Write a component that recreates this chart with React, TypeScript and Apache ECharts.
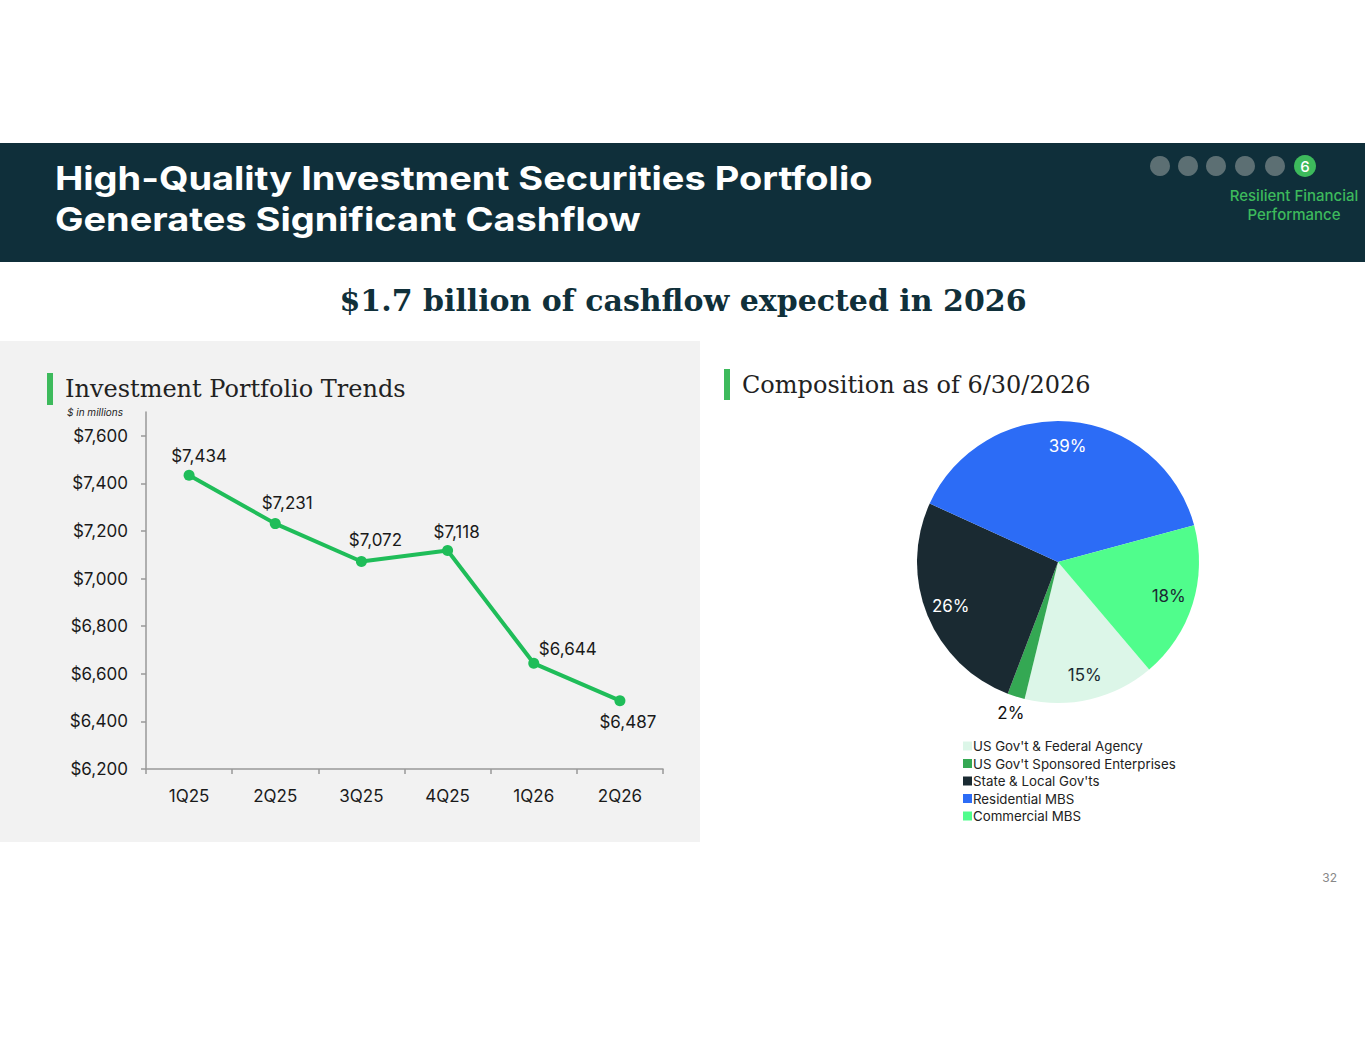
import React, { useEffect, useRef } from "react";
import * as echarts from "echarts";

const quarters = ["1Q25", "2Q25", "3Q25", "4Q25", "1Q26", "2Q26"];
const portfolioValues = [7434, 7231, 7072, 7118, 6644, 6487];
const yTickValues = [6200, 6400, 6600, 6800, 7000, 7200, 7400, 7600];
const compositionNames = [
  "US Gov't & Federal Agency",
  "US Gov't Sponsored Enterprises",
  "State & Local Gov'ts",
  "Residential MBS",
  "Commercial MBS",
];
const compositionPercents = [15, 2, 26, 39, 18];

const sliceColors = ["#dcf6e8", "#34a853", "#1a2a32", "#2c6cf6", "#50fd8c"];
const sliceLabelColors = ["#1a2a32", "#111111", "#ffffff", "#ffffff", "#1a2a32"];
const pointLabelStyles = [
  { position: "top", offset: [10, 0] },
  { position: "top", offset: [12, -2] },
  { position: "top", offset: [14, -2] },
  { position: "top", offset: [9, 0] },
  { position: "top", offset: [34, 5] },
  { position: "bottom", offset: [8, 2] },
];

const SANS = "Inter, 'Noto Sans', sans-serif";
const SERIF = "'DejaVu Serif', serif";
const HEADER = "#0f2f3a";
const GREEN = "#3dba5c";

const fmtMoney = (v: number) => "$" + v.toLocaleString("en-US");

export default function App() {
  const ref = useRef<HTMLDivElement>(null);
  useEffect(() => {
    if (!ref.current) return;
    const chart = echarts.init(ref.current, null, { renderer: "svg" });
    const dotXs = [1160, 1188, 1216, 1245, 1275];
    const option: any = {
      animation: false,
      backgroundColor: "#ffffff",
      graphic: [
        { type: "rect", z: -10, shape: { x: 0, y: 143, width: 1365, height: 119 }, style: { fill: HEADER } },
        { type: "text", x: 55, y: 178, scaleX: 1.15, style: { text: "High-Quality Investment Securities Portfolio", fill: "#fff", font: `bold 33px ${SANS}`, textVerticalAlign: "middle" } },
        { type: "text", x: 55, y: 219, scaleX: 1.15, style: { text: "Generates Significant Cashflow", fill: "#fff", font: `bold 33px ${SANS}`, textVerticalAlign: "middle" } },
        ...dotXs.map((cx) => ({ type: "circle", shape: { cx, cy: 166, r: 10 }, style: { fill: "#5c6f73" } })),
        { type: "circle", shape: { cx: 1305, cy: 166, r: 11 }, style: { fill: GREEN } },
        { type: "text", x: 1305, y: 166, style: { text: "6", fill: "#fff", font: `500 15px ${SANS}`, textAlign: "center", textVerticalAlign: "middle" } },
        { type: "text", x: 1294, y: 195, style: { text: "Resilient Financial", fill: GREEN, font: `500 15px ${SANS}`, textAlign: "center", textVerticalAlign: "middle" } },
        { type: "text", x: 1294, y: 214, style: { text: "Performance", fill: GREEN, font: `500 15px ${SANS}`, textAlign: "center", textVerticalAlign: "middle" } },
        { type: "text", x: 683, y: 300, style: { text: "$1.7 billion of cashflow expected in 2026", fill: "#10303a", font: `bold 30px ${SERIF}`, textAlign: "center", textVerticalAlign: "middle" } },
        { type: "rect", z: -10, shape: { x: 0, y: 341, width: 700, height: 501 }, style: { fill: "#f2f2f2" } },
        { type: "rect", shape: { x: 47, y: 373, width: 6, height: 32 }, style: { fill: GREEN } },
        { type: "text", x: 65, y: 389, style: { text: "Investment Portfolio Trends", fill: "#222", font: `24px ${SERIF}`, textVerticalAlign: "middle" } },
        { type: "text", x: 67, y: 412, style: { text: "$ in millions", fill: "#222", font: `italic 10px ${SANS}`, textVerticalAlign: "middle" } },
        { type: "rect", shape: { x: 724, y: 369, width: 6, height: 31 }, style: { fill: GREEN } },
        { type: "text", x: 742, y: 385, style: { text: "Composition as of 6/30/2026", fill: "#222", font: `24px ${SERIF}`, textVerticalAlign: "middle" } },
        { type: "text", x: 1337, y: 877, style: { text: "32", fill: "#888", font: `12px ${SANS}`, textAlign: "right", textVerticalAlign: "middle" } },
      ],
      grid: { left: 146, right: 702, top: 412, bottom: 286, containLabel: false },
      xAxis: {
        type: "category",
        data: quarters,
        boundaryGap: true,
        axisLine: { lineStyle: { color: "#999", width: 1.5 } },
        axisTick: { show: true, length: 5, lineStyle: { color: "#999", width: 1.5 } },
        axisLabel: { color: "#1a1a1a", fontFamily: SANS, fontSize: 17, margin: 18 },
      },
      yAxis: {
        type: "value",
        min: 6200,
        max: 7700,
        splitLine: { show: false },
        axisLine: { show: true, lineStyle: { color: "#999", width: 1.5 } },
        axisTick: { show: true, length: 5, customValues: yTickValues, lineStyle: { color: "#999", width: 1.5 } },
        axisLabel: { customValues: yTickValues, color: "#1a1a1a", fontFamily: SANS, fontSize: 17, margin: 18, formatter: (v: number) => fmtMoney(v) },
      },
      legend: {
        orient: "vertical",
        left: 958,
        top: 734,
        itemWidth: 9,
        itemHeight: 9,
        itemGap: 3.5,
        icon: "rect",
        selectedMode: false,
        textStyle: { color: "#222", fontFamily: SANS, fontSize: 13.3, lineHeight: 14, padding: [0, 0, 0, -4] },
        data: compositionNames.map((n, i) => ({ name: n, itemStyle: { color: sliceColors[i] } })),
      },
      series: [
        {
          type: "line",
          data: portfolioValues.map((v, i) => ({ value: v, label: pointLabelStyles[i] })),
          symbol: "circle",
          symbolSize: 11,
          lineStyle: { color: "#1fbd59", width: 4 },
          itemStyle: { color: "#1fbd59" },
          label: { show: true, color: "#1a1a1a", fontFamily: SANS, fontSize: 17, formatter: (p: any) => fmtMoney(p.value) },
        },
        {
          type: "pie",
          center: [1058, 562],
          radius: [0, 141],
          startAngle: -49.7,
          clockwise: true,
          avoidLabelOverlap: false,
          label: { show: false },
          labelLine: { show: false },
          emphasis: { disabled: true },
          data: compositionNames.map((n, i) => ({ name: n, value: compositionPercents[i], itemStyle: { color: sliceColors[i] } })),
        },
        {
          type: "pie",
          center: [1058, 562],
          radius: [85, 141],
          startAngle: -49.7,
          silent: true,
          avoidLabelOverlap: false,
          legendHoverLink: false,
          itemStyle: { color: "rgba(0,0,0,0)" },
          emphasis: { disabled: true },
          label: { show: true, position: "inside", fontFamily: SANS, fontSize: 17, formatter: "{c}%" },
          labelLine: { show: false },
          data: compositionNames.map((n, i) => ({
            name: n,
            value: compositionPercents[i],
            itemStyle: { color: "rgba(0,0,0,0)" },
            label: { show: compositionPercents[i] >= 5, color: sliceLabelColors[i] },
          })),
        },
        {
          type: "pie",
          center: [1058, 562],
          radius: [141, 170],
          startAngle: -49.7,
          silent: true,
          avoidLabelOverlap: false,
          legendHoverLink: false,
          itemStyle: { color: "rgba(0,0,0,0)" },
          emphasis: { disabled: true },
          label: { show: true, position: "inside", fontFamily: SANS, fontSize: 17, formatter: "{c}%" },
          labelLine: { show: false },
          data: compositionNames.map((n, i) => ({
            name: n,
            value: compositionPercents[i],
            itemStyle: { color: "rgba(0,0,0,0)" },
            label: { show: compositionPercents[i] < 5, color: sliceLabelColors[i] },
          })),
        },
      ],
    };
    chart.setOption(option);
    return () => chart.dispose();
  }, []);
  return (
    <div
      ref={ref}
      style={{ position: "fixed", left: 0, top: 0, width: 1365, height: 1055, background: "#fff" }}
    />
  );
}
